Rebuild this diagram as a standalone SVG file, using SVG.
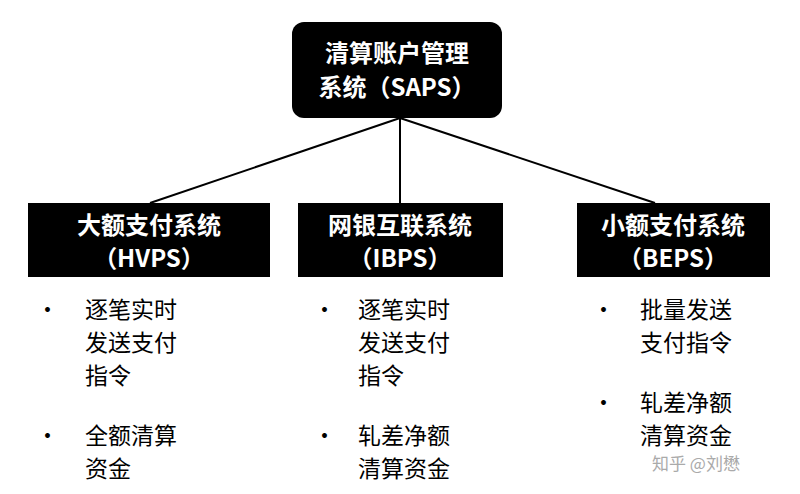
<svg xmlns="http://www.w3.org/2000/svg" width="800" height="494" viewBox="0 0 800 494">
<style>
.box{fill:#000}
.bt{fill:#fff;font-family:"Noto Sans CJK SC","Liberation Sans",sans-serif;font-weight:bold;font-size:24px;text-anchor:middle}
.t{fill:#000;font-family:"Noto Sans CJK SC","Liberation Sans",sans-serif;font-size:23px}
.c{stroke:#000;stroke-width:2;fill:none}
</style>
<rect width="800" height="494" fill="#fff"/>
<g id="connectors">
<line class="c" x1="400" y1="118" x2="150" y2="203"/>
<line class="c" x1="400" y1="118" x2="400" y2="203"/>
<line class="c" x1="400" y1="118" x2="655" y2="203"/>
</g>
<g id="saps">
<rect class="box" x="292" y="22" width="210" height="96" rx="12"/>
<text class="bt" x="397" y="62">清算账户管理</text>
<text class="bt" x="397" y="96">系统（SAPS）</text>
</g>
<g id="hvps">
<rect class="box" x="28" y="203" width="242" height="74"/>
<text class="bt" x="149" y="234">大额支付系统</text>
<text class="bt" x="149" y="267">（HVPS）</text>
</g>
<g id="ibps">
<rect class="box" x="298" y="203" width="205" height="74"/>
<text class="bt" x="400" y="234">网银互联系统</text>
<text class="bt" x="400" y="267">（IBPS）</text>
</g>
<g id="beps">
<rect class="box" x="577" y="203" width="193" height="74"/>
<text class="bt" x="673" y="234">小额支付系统</text>
<text class="bt" x="673" y="267">（BEPS）</text>
</g>
<g id="hvps-list" class="t">
<text x="36" y="318">•</text>
<text x="85" y="318">逐笔实时</text>
<text x="85" y="351">发送支付</text>
<text x="85" y="384">指令</text>
<text x="36" y="444">•</text>
<text x="85" y="444">全额清算</text>
<text x="85" y="477">资金</text>
</g>
<g id="ibps-list" class="t">
<text x="313" y="318">•</text>
<text x="358" y="318">逐笔实时</text>
<text x="358" y="351">发送支付</text>
<text x="358" y="384">指令</text>
<text x="313" y="444">•</text>
<text x="358" y="444">轧差净额</text>
<text x="358" y="477">清算资金</text>
</g>
<g id="beps-list" class="t">
<text x="592" y="318">•</text>
<text x="640" y="318">批量发送</text>
<text x="640" y="351">支付指令</text>
<text x="592" y="411">•</text>
<text x="640" y="411">轧差净额</text>
<text x="640" y="444">清算资金</text>
</g>
<text x="652" y="470" font-family="Noto Sans CJK SC,sans-serif" font-size="17" fill="#aaa">知乎 @刘懋</text>
</svg>
